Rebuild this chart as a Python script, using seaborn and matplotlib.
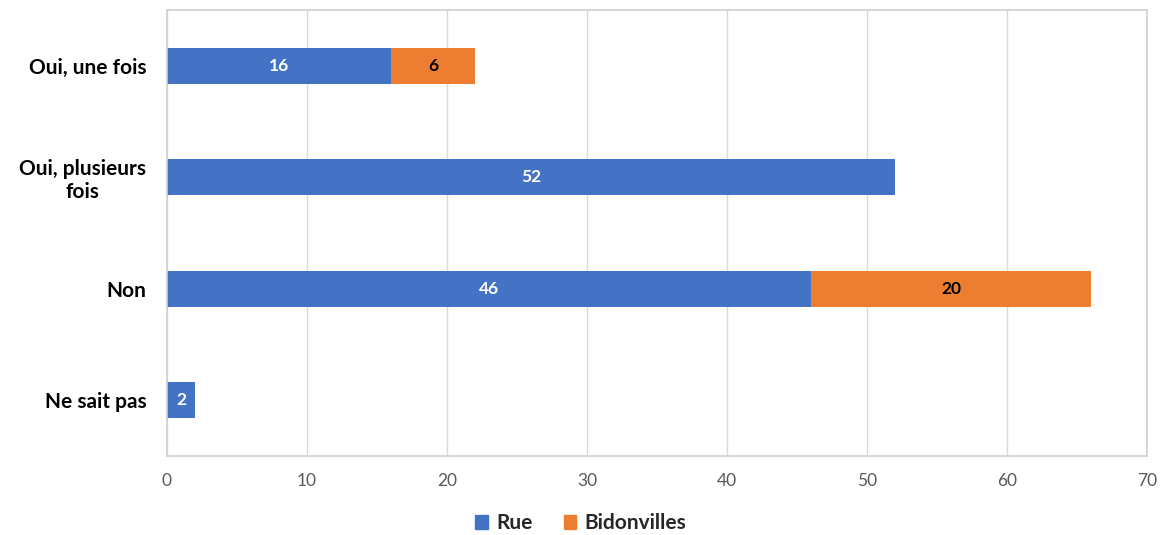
import matplotlib.pyplot as plt
import pandas as pd
import seaborn as sns
from matplotlib.patches import Patch

categories = ["Oui, une fois", "Oui, plusieurs\nfois", "Non", "Ne sait pas"]
rue = [16, 52, 46, 2]
bidonvilles = [6, 0, 20, 0]

BLUE = "#4472C4"
ORANGE = "#ED7D31"

sns.set_theme(style="white")
plt.rcParams["font.family"] = ["Lato", "DejaVu Sans"]

df = pd.DataFrame({"cat": categories, "rue": rue, "bid": bidonvilles})
df["total"] = df["rue"] + df["bid"]

fig = plt.figure(figsize=(11.62, 5.35), dpi=100)
ax = fig.add_axes([0.1437, 0.1477, 0.8433, 0.8336])

# stacked: total in orange, Rue in blue on top
sns.barplot(data=df, y="cat", x="total", color=ORANGE, orient="h",
            width=0.32, saturation=1, linewidth=0, ax=ax)
sns.barplot(data=df, y="cat", x="rue", color=BLUE, orient="h",
            width=0.32, saturation=1, linewidth=0, ax=ax)

tot_bars, rue_bars = ax.containers[0], ax.containers[1]
ax.bar_label(rue_bars, labels=[str(v) for v in rue], label_type="center",
             color="white", fontweight="bold", fontsize=12.5)
for bar, r, b in zip(tot_bars, rue, bidonvilles):
    if b > 0:
        y = bar.get_y() + bar.get_height() / 2
        ax.text(r + b / 2, y, str(b), ha="center", va="center",
                color="black", fontweight="bold", fontsize=12.5)

ax.set_xlim(0, 70)
ax.set_ylim(3.5, -0.5)
ax.set_xticks(range(0, 71, 10))
ax.xaxis.grid(True, color="#D9D9D9", linewidth=1)
ax.set_axisbelow(True)
for s in ax.spines.values():
    s.set_color("#D0D0D0")
    s.set_linewidth(1.2)

ax.set_xlabel(None)
ax.set_ylabel(None)
ax.tick_params(axis="x", colors="#595959", labelsize=12.5, pad=12, length=0)
ax.tick_params(axis="y", length=0, pad=15)
ax.set_yticks(range(len(categories)))
ax.set_yticklabels(categories, fontsize=15, fontweight="bold", color="black",
                   multialignment="center")

handles = [Patch(color=BLUE, label="Rue"), Patch(color=ORANGE, label="Bidonvilles")]
fig.legend(handles=handles, loc="center", bbox_to_anchor=(0.5, 0.022), ncol=2,
           frameon=False, handlelength=0.6, handleheight=0.6, handletextpad=0.4,
           columnspacing=1.5, prop={"weight": "bold", "size": 15})

fig.savefig("out.png")
